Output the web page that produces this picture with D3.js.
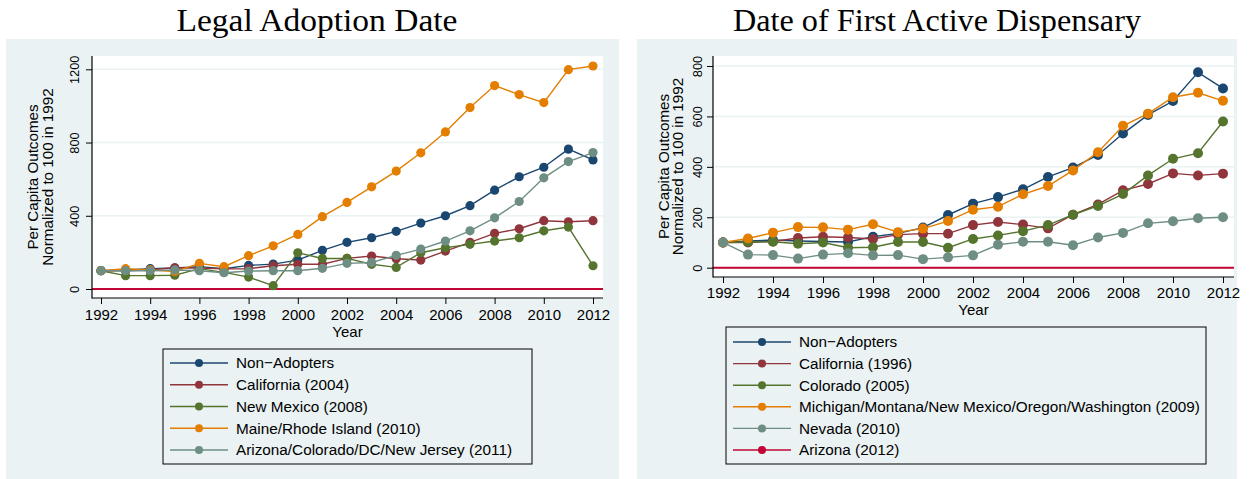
<!DOCTYPE html>
<html>
<head>
<meta charset="utf-8">
<script src="https://cdn.jsdelivr.net/npm/d3@7"></script>
<style>
body { margin: 0; background: #fff; }
text { font-family: "Liberation Sans", Arial, sans-serif; fill: #000; }
.title { font-family: "Liberation Serif", "Times New Roman", serif; }
</style>
</head>
<body>
<div id="chart"></div>
<script>
var years = [1992, 1993, 1994, 1995, 1996, 1997, 1998, 1999, 2000, 2001, 2002,
             2003, 2004, 2005, 2006, 2007, 2008, 2009, 2010, 2011, 2012];
var xTicks = [1992, 1994, 1996, 1998, 2000, 2002, 2004, 2006, 2008, 2010, 2012];

// Legal adoption date panel
var legalTitle = "Legal Adoption Date";
var legalYTicks = [0, 400, 800, 1200];
var legalLabels = ["Non\u2212Adopters", "California (2004)", "New Mexico (2008)",
                   "Maine/Rhode Island (2010)", "Arizona/Colorado/DC/New Jersey (2011)"];
var legalNonAdopters = [100, 104, 111, 115, 122, 111, 129, 136, 158, 211, 255, 280, 315, 360, 400, 455, 540, 613, 665, 764, 705];
var legalCalifornia  = [100, 100, 105, 116, 115, 110, 111, 127, 135, 135, 167, 180, 165, 158, 207, 255, 304, 329, 373, 367, 373];
var legalNewMexico   = [100, 73, 73, 75, 111, 91, 65, 18, 198, 167, 167, 135, 118, 198, 225, 244, 262, 280, 318, 338, 127];
var legalMaineRI     = [100, 111, 104, 95, 140, 122, 182, 236, 298, 395, 473, 558, 644, 744, 858, 991, 1111, 1062, 1018, 1198, 1218];
var legalAzCoDcNj    = [100, 100, 100, 104, 100, 89, 98, 100, 100, 113, 140, 145, 184, 218, 262, 318, 389, 478, 607, 696, 745];

// First active dispensary panel
var dispTitle = "Date of First Active Dispensary";
var dispYTicks = [0, 200, 400, 600, 800];
var dispLabels = ["Non\u2212Adopters", "California (1996)", "Colorado (2005)",
                  "Michigan/Montana/New Mexico/Oregon/Washington (2009)", "Nevada (2010)", "Arizona (2012)"];
var dispNonAdopters = [100, 106, 110, 106, 104, 102, 123, 136, 159, 209, 254, 280, 311, 360, 397, 447, 532, 606, 661, 775, 711];
var dispCalifornia  = [100, 100, 104, 118, 123, 120, 114, 131, 135, 135, 169, 181, 171, 156, 210, 251, 307, 332, 374, 366, 373];
var dispColorado    = [100, 102, 103, 95, 100, 79, 81, 102, 102, 79, 114, 128, 145, 169, 210, 245, 292, 366, 432, 454, 580];
var dispMichEtc     = [100, 116, 139, 161, 160, 151, 172, 141, 155, 185, 230, 242, 291, 324, 386, 458, 563, 611, 676, 694, 662];
var dispNevada      = [100, 52, 50, 36, 52, 57, 49, 50, 34, 41, 49, 91, 103, 103, 89, 120, 138, 176, 184, 196, 200];
var dispArizona     = [];

var colors = ["#1a476f", "#90353b", "#55752f", "#e37e00", "#6e8e84", "#c10534"];
var bg = "#eaf2f3";

var svg = d3.select("#chart").append("svg")
    .attr("width", 1250)
    .attr("height", 479);

function drawPanel(p) {
    // outer graph region
    svg.append("rect")
        .attr("x", p.bx0).attr("y", 39)
        .attr("width", p.bx1 - p.bx0).attr("height", 440)
        .attr("fill", bg);

    // plot region
    svg.append("rect")
        .attr("x", p.px0).attr("y", p.py0)
        .attr("width", p.px1 - p.px0).attr("height", p.py1 - p.py0)
        .attr("fill", "#fff");

    var xScale = d3.scaleLinear().domain([1992, 2012]).range([p.x0, p.x1]);
    var yScale = d3.scaleLinear().domain([0, p.yMax]).range([p.y0, p.y1]);

    // grid
    svg.append("g").selectAll("line")
        .data(p.yTicks)
        .enter().append("line")
        .attr("x1", p.px0).attr("x2", p.px1)
        .attr("y1", d => yScale(d)).attr("y2", d => yScale(d))
        .attr("stroke", bg).attr("stroke-width", 1.5);

    // zero reference line
    svg.append("line")
        .attr("x1", p.px0).attr("x2", p.px1)
        .attr("y1", yScale(0)).attr("y2", yScale(0))
        .attr("stroke", colors[5]).attr("stroke-width", 2);

    // y axis
    var leftAxis = d3.axisLeft(yScale).tickValues(p.yTicks).tickSize(6).tickFormat(d3.format("d"));
    var ya = svg.append("g")
        .attr("transform", `translate(${p.px0}, 0)`)
        .call(leftAxis);
    ya.select(".domain").remove();
    ya.selectAll("text")
        .attr("transform", "rotate(-90)")
        .attr("x", 0).attr("y", -p.yLabOff).attr("dy", null)
        .attr("text-anchor", "middle")
        .style("font-size", "12.8px");

    // x axis
    var bottomAxis = d3.axisBottom(xScale).tickValues(xTicks).tickSize(6).tickFormat(d3.format("d"));
    var xa = svg.append("g")
        .attr("transform", `translate(0, ${p.py1})`)
        .call(bottomAxis);
    xa.select(".domain").remove();
    xa.selectAll("text")
        .attr("y", p.xLabOff).attr("dy", null)
        .style("font-size", "15px");
    svg.selectAll(".tick line").attr("stroke", "#000");

    // axis lines
    svg.append("line")
        .attr("x1", p.px0).attr("x2", p.px0)
        .attr("y1", p.py0).attr("y2", p.py1 + 0.5)
        .attr("stroke", "#000").attr("stroke-width", 1.2);
    svg.append("line")
        .attr("x1", p.px0).attr("x2", p.px1)
        .attr("y1", p.py1).attr("y2", p.py1)
        .attr("stroke", "#000").attr("stroke-width", 1.2);

    // axis titles
    var midY = (p.py0 + p.py1) / 2;
    svg.append("text")
        .attr("transform", `translate(${p.t1x}, ${midY}) rotate(-90)`)
        .attr("text-anchor", "middle")
        .style("font-size", "15.2px")
        .text("Per Capita Outcomes");
    svg.append("text")
        .attr("transform", `translate(${p.t2x}, ${midY}) rotate(-90)`)
        .attr("text-anchor", "middle")
        .style("font-size", "15.2px")
        .text("Normalized to 100 in 1992");
    svg.append("text")
        .attr("x", (p.px0 + p.px1) / 2).attr("y", p.yearY)
        .attr("text-anchor", "middle")
        .style("font-size", "15px")
        .text("Year");

    // main title
    svg.append("text")
        .attr("class", "title")
        .attr("x", p.titleX).attr("y", 31)
        .attr("text-anchor", "middle")
        .attr("textLength", p.titleW)
        .attr("lengthAdjust", "spacingAndGlyphs")
        .style("font-size", "31px")
        .text(p.title);

    // series
    var line = d3.line()
        .x((d, i) => xScale(years[i]))
        .y(d => yScale(d));
    p.series.forEach(function (s, k) {
        if (!s.length) return;
        svg.append("path")
            .datum(s)
            .attr("d", line)
            .attr("fill", "none")
            .attr("stroke", colors[k])
            .attr("stroke-width", 1.4);
        svg.append("g").selectAll("circle")
            .data(s)
            .enter().append("circle")
            .attr("cx", (d, i) => xScale(years[i]))
            .attr("cy", d => yScale(d))
            .attr("r", p.r)
            .attr("fill", colors[k]);
    });

    // legend
    svg.append("rect")
        .attr("x", p.lx0).attr("y", p.ly0)
        .attr("width", p.lx1 - p.lx0).attr("height", p.ly1 - p.ly0)
        .attr("fill", "none").attr("stroke", "#000").attr("stroke-width", 1);
    var rows = svg.append("g").selectAll("g")
        .data(p.labels)
        .enter().append("g")
        .attr("transform", (d, i) => `translate(${p.lx0}, ${p.rowY + i * p.rowH})`);
    rows.append("line")
        .attr("x1", 7).attr("x2", 65)
        .attr("stroke", (d, i) => colors[i]).attr("stroke-width", 1.4);
    rows.append("circle")
        .attr("cx", 36).attr("r", 4)
        .attr("fill", (d, i) => colors[i]);
    rows.append("text")
        .attr("x", 73).attr("dy", "0.35em")
        .style("font-size", "15.3px")
        .text(d => d);
}

drawPanel({
    title: legalTitle, titleX: 317, titleW: 281,
    bx0: 6, bx1: 619,
    px0: 92, px1: 603, py0: 56, py1: 298,
    x0: 101, x1: 593, y0: 289, y1: 69.3, yMax: 1200,
    yTicks: legalYTicks, yLabOff: 13.5, xLabOff: 22,
    t1x: 38, t2x: 52.5, yearY: 337,
    r: 4.6,
    series: [legalNonAdopters, legalCalifornia, legalNewMexico, legalMaineRI, legalAzCoDcNj],
    labels: legalLabels,
    lx0: 163, lx1: 532, ly0: 349, ly1: 464, rowY: 363, rowH: 21.75
});

drawPanel({
    title: dispTitle, titleX: 937, titleW: 408,
    bx0: 637, bx1: 1237,
    px0: 713, px1: 1234, py0: 56, py1: 277,
    x0: 723, x1: 1223, y0: 267.7, y1: 66, yMax: 800,
    yTicks: dispYTicks, yLabOff: 11.5, xLabOff: 21,
    t1x: 668.5, t2x: 683, yearY: 315,
    r: 5,
    series: [dispNonAdopters, dispCalifornia, dispColorado, dispMichEtc, dispNevada, dispArizona],
    labels: dispLabels,
    lx0: 726, lx1: 1206, ly0: 327, ly1: 464, rowY: 342, rowH: 21.6
});
</script>
</body>
</html>
